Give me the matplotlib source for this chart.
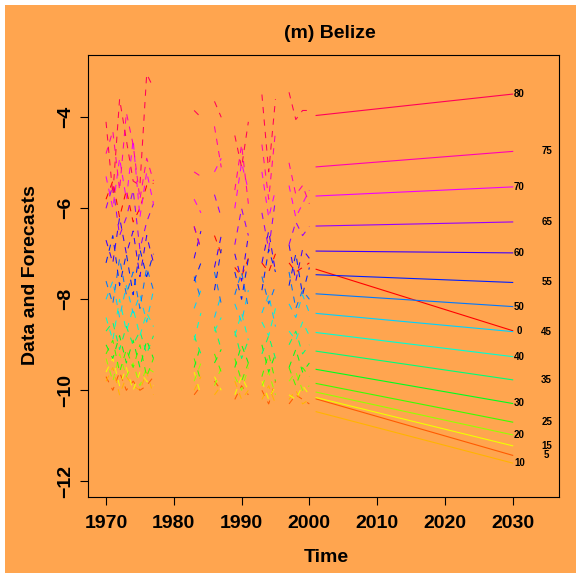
import numpy as np
import matplotlib
matplotlib.use("Agg")
import matplotlib.pyplot as plt
from matplotlib.colors import hsv_to_rgb
from matplotlib.patches import Rectangle

plt.rcParams["font.family"] = ["Liberation Sans", "DejaVu Sans"]
plt.rcParams["font.weight"] = "bold"

# ---- data -------------------------------------------------------------
ages = [0, 5, 10, 15, 20, 25, 30, 35, 40, 45, 50, 55, 60, 65, 70, 75, 80]

years_obs = [1970, 1971, 1972, 1973, 1974, 1975, 1976, 1977,
             1983, 1984, 1986, 1987,
             1989, 1990, 1991,
             1993, 1994, 1995,
             1997, 1998, 1999, 2000]

# observed log mortality rates, one list per age group
rate_0 = [-5.8, -5.4, -6.2, -5.6, -6.3, -6.0, -5.5, -5.45, -6.4, -6.9, -6.6, -7.0,
          -7.3, -7.5, -7.1, -7.2, -7.4, -7.0, -7.2, -7.4, -7.3, -7.2]
rate_5 = [-9.7, -10.0, -9.6, -10.0, -9.8, -10.0, -9.9, -9.7, -10.1, -9.9, -9.8, -10.0,
          -10.2, -9.9, -10.1, -10.0, -10.3, -9.8, -10.3, -10.1, -10.2, -10.3]
rate_10 = [-9.8, -9.5, -10.1, -9.7, -9.9, -10.0, -9.6, -10.1, -10.0, -9.7, -10.1, -9.9,
           -9.8, -10.2, -10.0, -10.2, -9.9, -10.3, -10.2, -10.0, -10.3, -10.2]
rate_15 = [-9.6, -9.3, -9.9, -9.5, -10.0, -9.6, -9.8, -9.9, -9.6, -10.1, -9.7, -10.0,
           -10.1, -9.7, -10.0, -9.8, -10.2, -9.9, -10.1, -10.2, -9.9, -10.1]
rate_20 = [-9.3, -9.8, -9.2, -9.7, -9.4, -9.9, -9.5, -9.6, -9.8, -9.4, -9.9, -9.5,
           -9.7, -10.0, -9.5, -9.9, -9.6, -10.1, -9.8, -9.6, -10.0, -9.9]
rate_25 = [-9.2, -8.9, -9.6, -9.1, -9.5, -9.0, -9.7, -9.3, -9.3, -9.8, -9.2, -9.6,
           -9.3, -9.8, -9.4, -9.7, -9.2, -9.8, -9.5, -9.9, -9.5, -9.7]
rate_30 = [-9.0, -9.3, -8.8, -9.4, -8.9, -9.5, -8.9, -9.3, -9.5, -9.0, -9.4, -9.1,
           -9.5, -9.0, -9.4, -9.0, -9.6, -9.2, -9.5, -9.1, -9.6, -9.4]
rate_35 = [-8.7, -8.5, -9.1, -8.6, -9.0, -8.7, -9.2, -8.8, -8.8, -9.2, -8.6, -9.1,
           -8.7, -9.3, -8.9, -9.2, -8.8, -9.3, -9.0, -8.7, -9.2, -9.0]
rate_40 = [-8.4, -8.9, -8.0, -8.7, -8.2, -8.8, -8.3, -8.6, -8.9, -8.3, -8.7, -8.4,
           -8.8, -8.3, -8.9, -8.5, -8.8, -8.2, -8.7, -8.9, -8.5, -8.8]
rate_45 = [-8.0, -7.6, -8.4, -7.7, -8.3, -7.9, -8.5, -7.8, -8.2, -7.8, -8.4, -7.9,
           -8.1, -8.5, -7.8, -8.3, -7.9, -8.6, -8.1, -8.4, -7.9, -8.3]
rate_50 = [-7.6, -8.1, -7.1, -7.9, -7.4, -8.2, -7.3, -7.8, -7.5, -8.0, -7.4, -8.1,
           -7.9, -7.4, -8.2, -7.5, -8.1, -7.7, -7.4, -8.2, -7.8, -8.0]
rate_55 = [-7.2, -6.6, -7.7, -7.0, -7.9, -6.9, -7.5, -7.0, -7.6, -7.2, -7.8, -6.9,
           -7.4, -8.0, -7.1, -7.8, -6.9, -7.4, -7.7, -7.0, -7.9, -7.3]
rate_60 = [-6.7, -7.2, -6.2, -7.0, -6.5, -7.5, -6.6, -7.2, -7.1, -6.5, -7.3, -6.6,
           -7.0, -7.6, -6.6, -7.2, -6.5, -7.4, -6.8, -7.6, -6.9, -7.1]
rate_65 = [-6.0, -5.5, -6.6, -6.2, -5.6, -6.9, -6.3, -5.9, -6.4, -6.9, -5.7, -6.2,
           -6.8, -6.0, -6.6, -6.1, -6.9, -5.8, -6.8, -6.3, -6.6, -6.4]
rate_70 = [-5.3, -6.0, -4.9, -5.8, -4.5, -6.2, -5.2, -5.9, -5.8, -6.1, -5.2, -4.9,
           -6.0, -5.0, -5.6, -5.2, -6.2, -5.6, -5.5, -6.2, -5.9, -5.6]
rate_75 = [-4.8, -4.3, -5.6, -3.9, -4.6, -5.8, -4.9, -5.4, -5.2, -5.3, -4.2, -5.1,
           -5.6, -4.6, -5.9, -4.6, -5.8, -4.3, -5.0, -5.7, -5.5, -5.9]
rate_80 = [-4.1, -5.7, -3.6, -4.5, -5.4, -5.5, -3.05, -3.35, -3.85, -4.0, -3.65, -4.0,
           -4.4, -5.1, -4.1, -3.5, -5.2, -3.6, -3.45, -4.05, -3.85, -3.85]

observed = [rate_0, rate_5, rate_10, rate_15, rate_20, rate_25, rate_30, rate_35,
            rate_40, rate_45, rate_50, rate_55, rate_60, rate_65, rate_70, rate_75,
            rate_80]

# forecast horizon and forecast values at its two ends, by age
fc_years = [2001, 2030]
fc_start = [-7.34, -10.19, -10.47, -10.16, -10.04, -9.85, -9.54, -9.14, -8.73,
            -8.31, -7.88, -7.46, -6.94, -6.39, -5.73, -5.09, -3.96]
fc_end = [-8.69, -11.43, -11.60, -11.22, -10.98, -10.70, -10.29, -9.77, -9.26,
          -8.71, -8.16, -7.63, -6.98, -6.30, -5.53, -4.75, -3.49]

xticks = [1970, 1980, 1990, 2000, 2010, 2020, 2030]
yticks = [-12, -10, -8, -6, -4]

# ---- figure -----------------------------------------------------------
W, H = 576, 573
bg = "#FFA54F"
fig = plt.figure(figsize=(W / 100, H / 100), dpi=100)
fig.patch.set_facecolor("white")
fig.add_artist(Rectangle((5 / W, 0), 1, (H - 5) / H, transform=fig.transFigure,
                         facecolor=bg, edgecolor="none", zorder=-10))

ax = fig.add_axes([88 / W, 1 - 497 / H, (558.5 - 88) / W, (497 - 55) / H])
ax.set_facecolor("none")

n = len(ages)
colors = [hsv_to_rgb((i / n, 1.0, 1.0)) for i in range(n)]

# break the observed series wherever years are missing
yrs = np.array(years_obs, dtype=float)
gaps = np.where(np.diff(yrs) > 1)[0] + 1
x_plot = np.insert(yrs, gaps, np.nan)

for i, vals in enumerate(observed):
    y_plot = np.insert(np.array(vals, dtype=float), gaps, np.nan)
    ax.plot(x_plot, y_plot, color=colors[i], lw=0.75, linestyle=(0, (6, 6)))

for i in range(n):
    ax.plot(fc_years, [fc_start[i], fc_end[i]], color=colors[i], lw=0.8)
    xl = 2031 if i % 2 == 0 else 2035
    ax.text(xl, fc_end[i], str(ages[i]), fontsize=7, fontweight="bold",
            ha="center", va="center")

ax.set_xlim(1967.34, 2036.76)
ax.set_ylim(-12.345, -2.631)

ax.set_xticks(xticks)
ax.set_xticklabels([str(t) for t in xticks], va="baseline")
ax.set_yticks(yticks)
ax.set_yticklabels(["\u2212" + str(abs(t)) for t in yticks], rotation=90,
                   rotation_mode="anchor", ha="center", va="baseline")
ax.tick_params(axis="both", direction="out", length=5.8, width=0.8,
               labelsize=14, colors="black")
ax.tick_params(axis="x", pad=16.5)
ax.tick_params(axis="y", pad=6.7)
for lab in ax.get_xticklabels() + ax.get_yticklabels():
    lab.set_fontweight("bold")

for sp in ax.spines.values():
    sp.set_linewidth(0.8)
    sp.set_color("black")

fig.text(330 / W, 1 - 38 / H, "(m) Belize", fontsize=14, fontweight="bold",
         ha="center", va="baseline")
fig.text(326 / W, 1 - 561.5 / H, "Time", fontsize=14, fontweight="bold",
         ha="center", va="baseline")
fig.text(35.5 / W, 1 - 275 / H, "Data and Forecasts", fontsize=14,
         fontweight="bold", rotation=90, rotation_mode="anchor",
         ha="center", va="baseline")

fig.savefig("out.png", dpi=100, facecolor=fig.get_facecolor())
